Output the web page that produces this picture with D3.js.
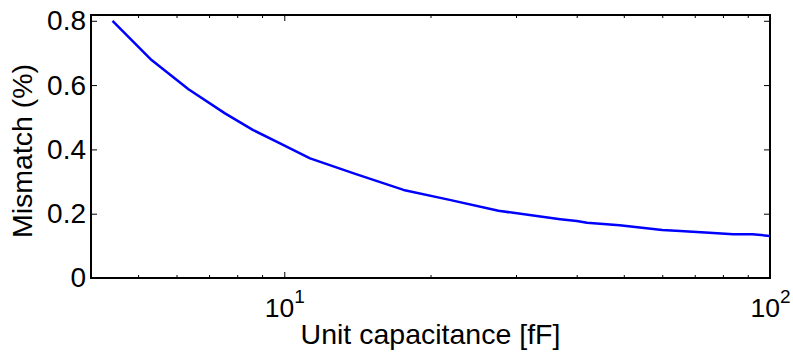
<!DOCTYPE html>
<html>
<head>
<meta charset="utf-8">
<script src="https://cdn.jsdelivr.net/npm/d3@7"></script>
<style>
html,body{margin:0;padding:0;background:#fff;}
svg{display:block;}
text{font-family:"Liberation Sans",Arial,Helvetica,sans-serif;fill:#000;}
</style>
</head>
<body>
<svg id="chart" width="793" height="353"></svg>
<script>
// Data
const capacitance = [4.43, 5.33, 6.35, 7.55, 8.63, 9.8, 11.3, 14, 17.6, 21.9, 27.6, 37, 40, 42, 49, 60, 64, 75, 84, 92, 100];
const mismatch    = [0.80, 0.678, 0.587, 0.512, 0.460, 0.419, 0.372, 0.324, 0.274, 0.243, 0.209, 0.183, 0.177, 0.172, 0.164, 0.149, 0.147, 0.141, 0.136, 0.136, 0.131];
const xMajorTicks = [10, 100];
const xMajorLabels = [["10","1"],["10","2"]];
const xMinorTicks = [5,6,7,8,9,20,30,40,50,60,70,80,90];
const yTicks = [0, 0.2, 0.4, 0.6, 0.8];
const yTickLabels = ["0","0.2","0.4","0.6","0.8"];
const xDomain = [4, 100];
const yDomain = [0, 0.818];
const xLabel = "Unit capacitance [fF]";
const yLabel = "Mismatch (%)";

const L = 91, R = 770, T = 15, B = 278;
const svg = d3.select("#chart");
const x = d3.scaleLog().domain(xDomain).range([L, R]);
const y = d3.scaleLinear().domain(yDomain).range([B, T]);

const tickLen = 6, minorLen = 3;

function styleAxis(g){
  g.select(".domain").remove();
  g.selectAll(".tick line").attr("stroke","#000").attr("stroke-width",1);
}

// bottom major
svg.append("g").attr("transform",`translate(0,${B})`)
  .call(d3.axisBottom(x).tickValues(xMajorTicks).tickSize(-tickLen).tickFormat(() => ""))
  .call(styleAxis)
  .call(g => {
    g.selectAll(".tick text").remove();
    g.selectAll(".tick").each(function(d, i){
      const t = d3.select(this).append("text")
        .attr("y", 39).attr("text-anchor","middle").style("font-size","26.5px");
      t.append("tspan").text(xMajorLabels[i][0]);
      t.append("tspan").attr("dy", -14).style("font-size","19px").text(xMajorLabels[i][1]);
    });
  });
// bottom minor
svg.append("g").attr("transform",`translate(0,${B})`)
  .call(d3.axisBottom(x).tickValues(xMinorTicks).tickSize(-minorLen).tickFormat(() => ""))
  .call(styleAxis);
// top major/minor
svg.append("g").attr("transform",`translate(0,${T})`)
  .call(d3.axisTop(x).tickValues(xMajorTicks).tickSize(-tickLen).tickFormat(() => ""))
  .call(styleAxis);
svg.append("g").attr("transform",`translate(0,${T})`)
  .call(d3.axisTop(x).tickValues(xMinorTicks).tickSize(-minorLen).tickFormat(() => ""))
  .call(styleAxis);
// left
svg.append("g").attr("transform",`translate(${L},0)`)
  .call(d3.axisLeft(y).tickValues(yTicks).tickSize(-tickLen).tickPadding(5)
        .tickFormat((d,i) => yTickLabels[i]))
  .call(styleAxis)
  .call(g => g.selectAll(".tick text").style("font-size","28px").attr("fill","#000"));
// right
svg.append("g").attr("transform",`translate(${R},0)`)
  .call(d3.axisRight(y).tickValues(yTicks).tickSize(-tickLen).tickFormat(() => ""))
  .call(styleAxis);

// frame
svg.append("rect").attr("x",L).attr("y",T).attr("width",R-L).attr("height",B-T)
  .attr("fill","none").attr("stroke","#000").attr("stroke-width",2);

// line
const line = d3.line().x((d,i) => x(capacitance[i])).y(d => y(d));
svg.append("path").datum(mismatch)
  .attr("d", line).attr("fill","none").attr("stroke","#0000ff").attr("stroke-width",2.5)
  .attr("stroke-linejoin","round");

// axis labels
svg.append("text").attr("x",(L+R)/2).attr("y",344).attr("text-anchor","middle")
  .style("font-size","28.5px").text(xLabel);
svg.append("text").attr("transform",`translate(32,151) rotate(-90)`)
  .attr("text-anchor","middle").style("font-size","28.5px").text(yLabel);
</script>
</body>
</html>
